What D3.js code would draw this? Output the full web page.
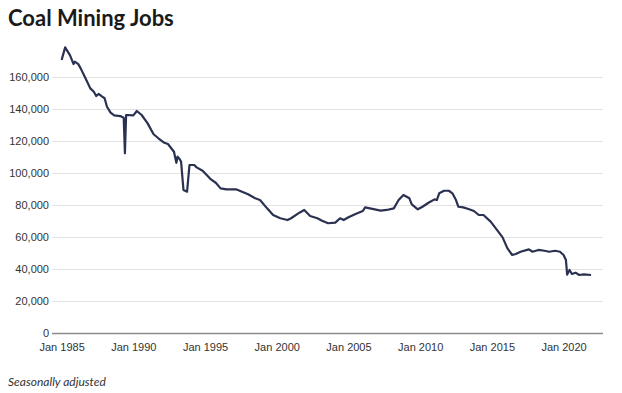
<!DOCTYPE html>
<html>
<head>
<meta charset="utf-8">
<script src="https://cdn.jsdelivr.net/npm/d3@7"></script>
<style>
  body { margin: 0; background: #fff; }
  svg { display: block; font-family: Lato, "Open Sans", sans-serif; }
  .title { font-size: 22px; font-weight: 700; fill: #1a1a1a; }
  .tick-label { font-size: 11px; fill: #333; }
  .note { font-size: 12px; font-style: italic; fill: #333; }
</style>
</head>
<body>
<div id="chart"></div>
<script>
const MONTHS = [
  "1985-01", "1985-04", "1985-05", "1985-08", "1985-11", "1985-12",
  "1986-03", "1986-05", "1986-09", "1987-01", "1987-04", "1987-06",
  "1987-08", "1987-11", "1988-01", "1988-03", "1988-06", "1988-09",
  "1989-02", "1989-05", "1989-06", "1989-07", "1990-01", "1990-04",
  "1990-08", "1991-01", "1991-06", "1991-10", "1992-03", "1992-06",
  "1992-11", "1993-01", "1993-02", "1993-04", "1993-05", "1993-07",
  "1993-10", "1993-12", "1994-04", "1994-06", "1994-11", "1995-01",
  "1995-06", "1995-10", "1996-02", "1996-07", "1997-03", "1997-08",
  "1998-01", "1998-07", "1998-11", "1999-05", "1999-10", "2000-04",
  "2000-10", "2001-01", "2001-08", "2001-12", "2002-05", "2002-11",
  "2003-03", "2003-08", "2004-02", "2004-06", "2004-09", "2005-01",
  "2005-07", "2006-01", "2006-03", "2006-08", "2007-04", "2007-09",
  "2008-03", "2008-07", "2008-11", "2009-04", "2009-06", "2009-11",
  "2010-03", "2010-08", "2011-01", "2011-03", "2011-05", "2011-09",
  "2012-01", "2012-04", "2012-07", "2012-09", "2013-01", "2013-06",
  "2013-10", "2014-02", "2014-06", "2014-12", "2015-05", "2015-10",
  "2016-02", "2016-06", "2016-09", "2017-01", "2017-08", "2017-11",
  "2018-04", "2018-09", "2019-01", "2019-06", "2019-10", "2020-01",
  "2020-03", "2020-04", "2020-06", "2020-08", "2020-11", "2021-02",
  "2021-06", "2021-12",
];

const JOBS = [
  170600, 178500, 177300, 173700, 168100, 169600,
  168100, 165400, 159200, 152900, 150800, 148100,
  149400, 147700, 146700, 141400, 137700, 136000,
  135600, 134600, 112300, 136250, 136000, 138750,
  136250, 131000, 124200, 121700, 118900, 118100,
  113300, 106400, 110200, 108500, 107100, 89400,
  88300, 105000, 105000, 103500, 101400, 99800,
  96000, 93900, 90400, 89800, 89800, 88300,
  86700, 84200, 83100, 77900, 73750, 71700,
  70600, 71700, 75200, 76900, 73100, 71700,
  70200, 68600, 69000, 71700, 70600, 72300,
  74400, 76250, 78500, 77700, 76500, 76900,
  77900, 83100, 86250, 84200, 80400, 77300,
  78900, 81400, 83500, 83100, 87300, 88900,
  88900, 87300, 83100, 78900, 78500, 77300,
  76250, 73750, 73750, 69600, 64800, 59800,
  52900, 48750, 49400, 50800, 52300, 50800,
  51900, 51400, 50800, 51400, 50800, 48750,
  45600, 36500, 39400, 36900, 37700, 36250,
  36600, 36250,
];

const Y_TICKS = [0, 20000, 40000, 60000, 80000, 100000, 120000, 140000, 160000];
const X_TICK_YEARS = [1985, 1990, 1995, 2000, 2005, 2010, 2015, 2020];

const width = 622;
const height = 393;
const margin = { top: 45, right: 19, bottom: 60, left: 52 };

const parseMonth = d3.timeParse("%Y-%m");
const data = MONTHS.map((m, i) => ({ date: parseMonth(m), value: JOBS[i] }));

const x = d3.scaleTime()
  .domain([new Date(1984, 4, 1), new Date(2022, 9, 1)])
  .range([margin.left, width - margin.right]);

const y = d3.scaleLinear()
  .domain([0, 180000])
  .range([height - margin.bottom, margin.top]);

const svg = d3.select("#chart")
  .append("svg")
  .attr("width", width)
  .attr("height", height);

svg.append("text")
  .attr("class", "title")
  .attr("x", 8)
  .attr("y", 26)
  .text("Coal Mining Jobs");

// horizontal grid + y labels
const yAxis = svg.append("g")
  .attr("transform", `translate(${margin.left},0)`)
  .call(
    d3.axisLeft(y)
      .tickValues(Y_TICKS)
      .tickSize(-(width - margin.left - margin.right))
      .tickPadding(3)
      .tickFormat(d3.format(","))
  );

yAxis.select(".domain").remove();
yAxis.selectAll(".tick line")
  .attr("stroke", (d) => (d === 0 ? "#8c8c8c" : "#e3e3e3"))
  .attr("stroke-width", (d) => (d === 0 ? 1.5 : 1));
yAxis.selectAll(".tick text")
  .attr("class", "tick-label")
  .attr("fill", "#333")
  .style("font-size", "11px");

// x labels
const xAxis = svg.append("g")
  .attr("transform", `translate(0,${height - margin.bottom})`)
  .call(
    d3.axisBottom(x)
      .tickValues(X_TICK_YEARS.map((yr) => new Date(yr, 0, 1)))
      .tickSize(0)
      .tickPadding(10)
      .tickFormat(d3.timeFormat("Jan %Y"))
  );

xAxis.select(".domain").remove();
xAxis.selectAll(".tick text")
  .attr("class", "tick-label")
  .attr("fill", "#333")
  .style("font-size", "11px");

const line = d3.line()
  .x((d) => x(d.date))
  .y((d) => y(d.value));

svg.append("path")
  .datum(data)
  .attr("fill", "none")
  .attr("stroke", "#2b3150")
  .attr("stroke-width", 2.2)
  .attr("stroke-linejoin", "round")
  .attr("d", line);

svg.append("text")
  .attr("class", "note")
  .attr("x", 8)
  .attr("y", 386)
  .text("Seasonally adjusted");
</script>
</body>
</html>
